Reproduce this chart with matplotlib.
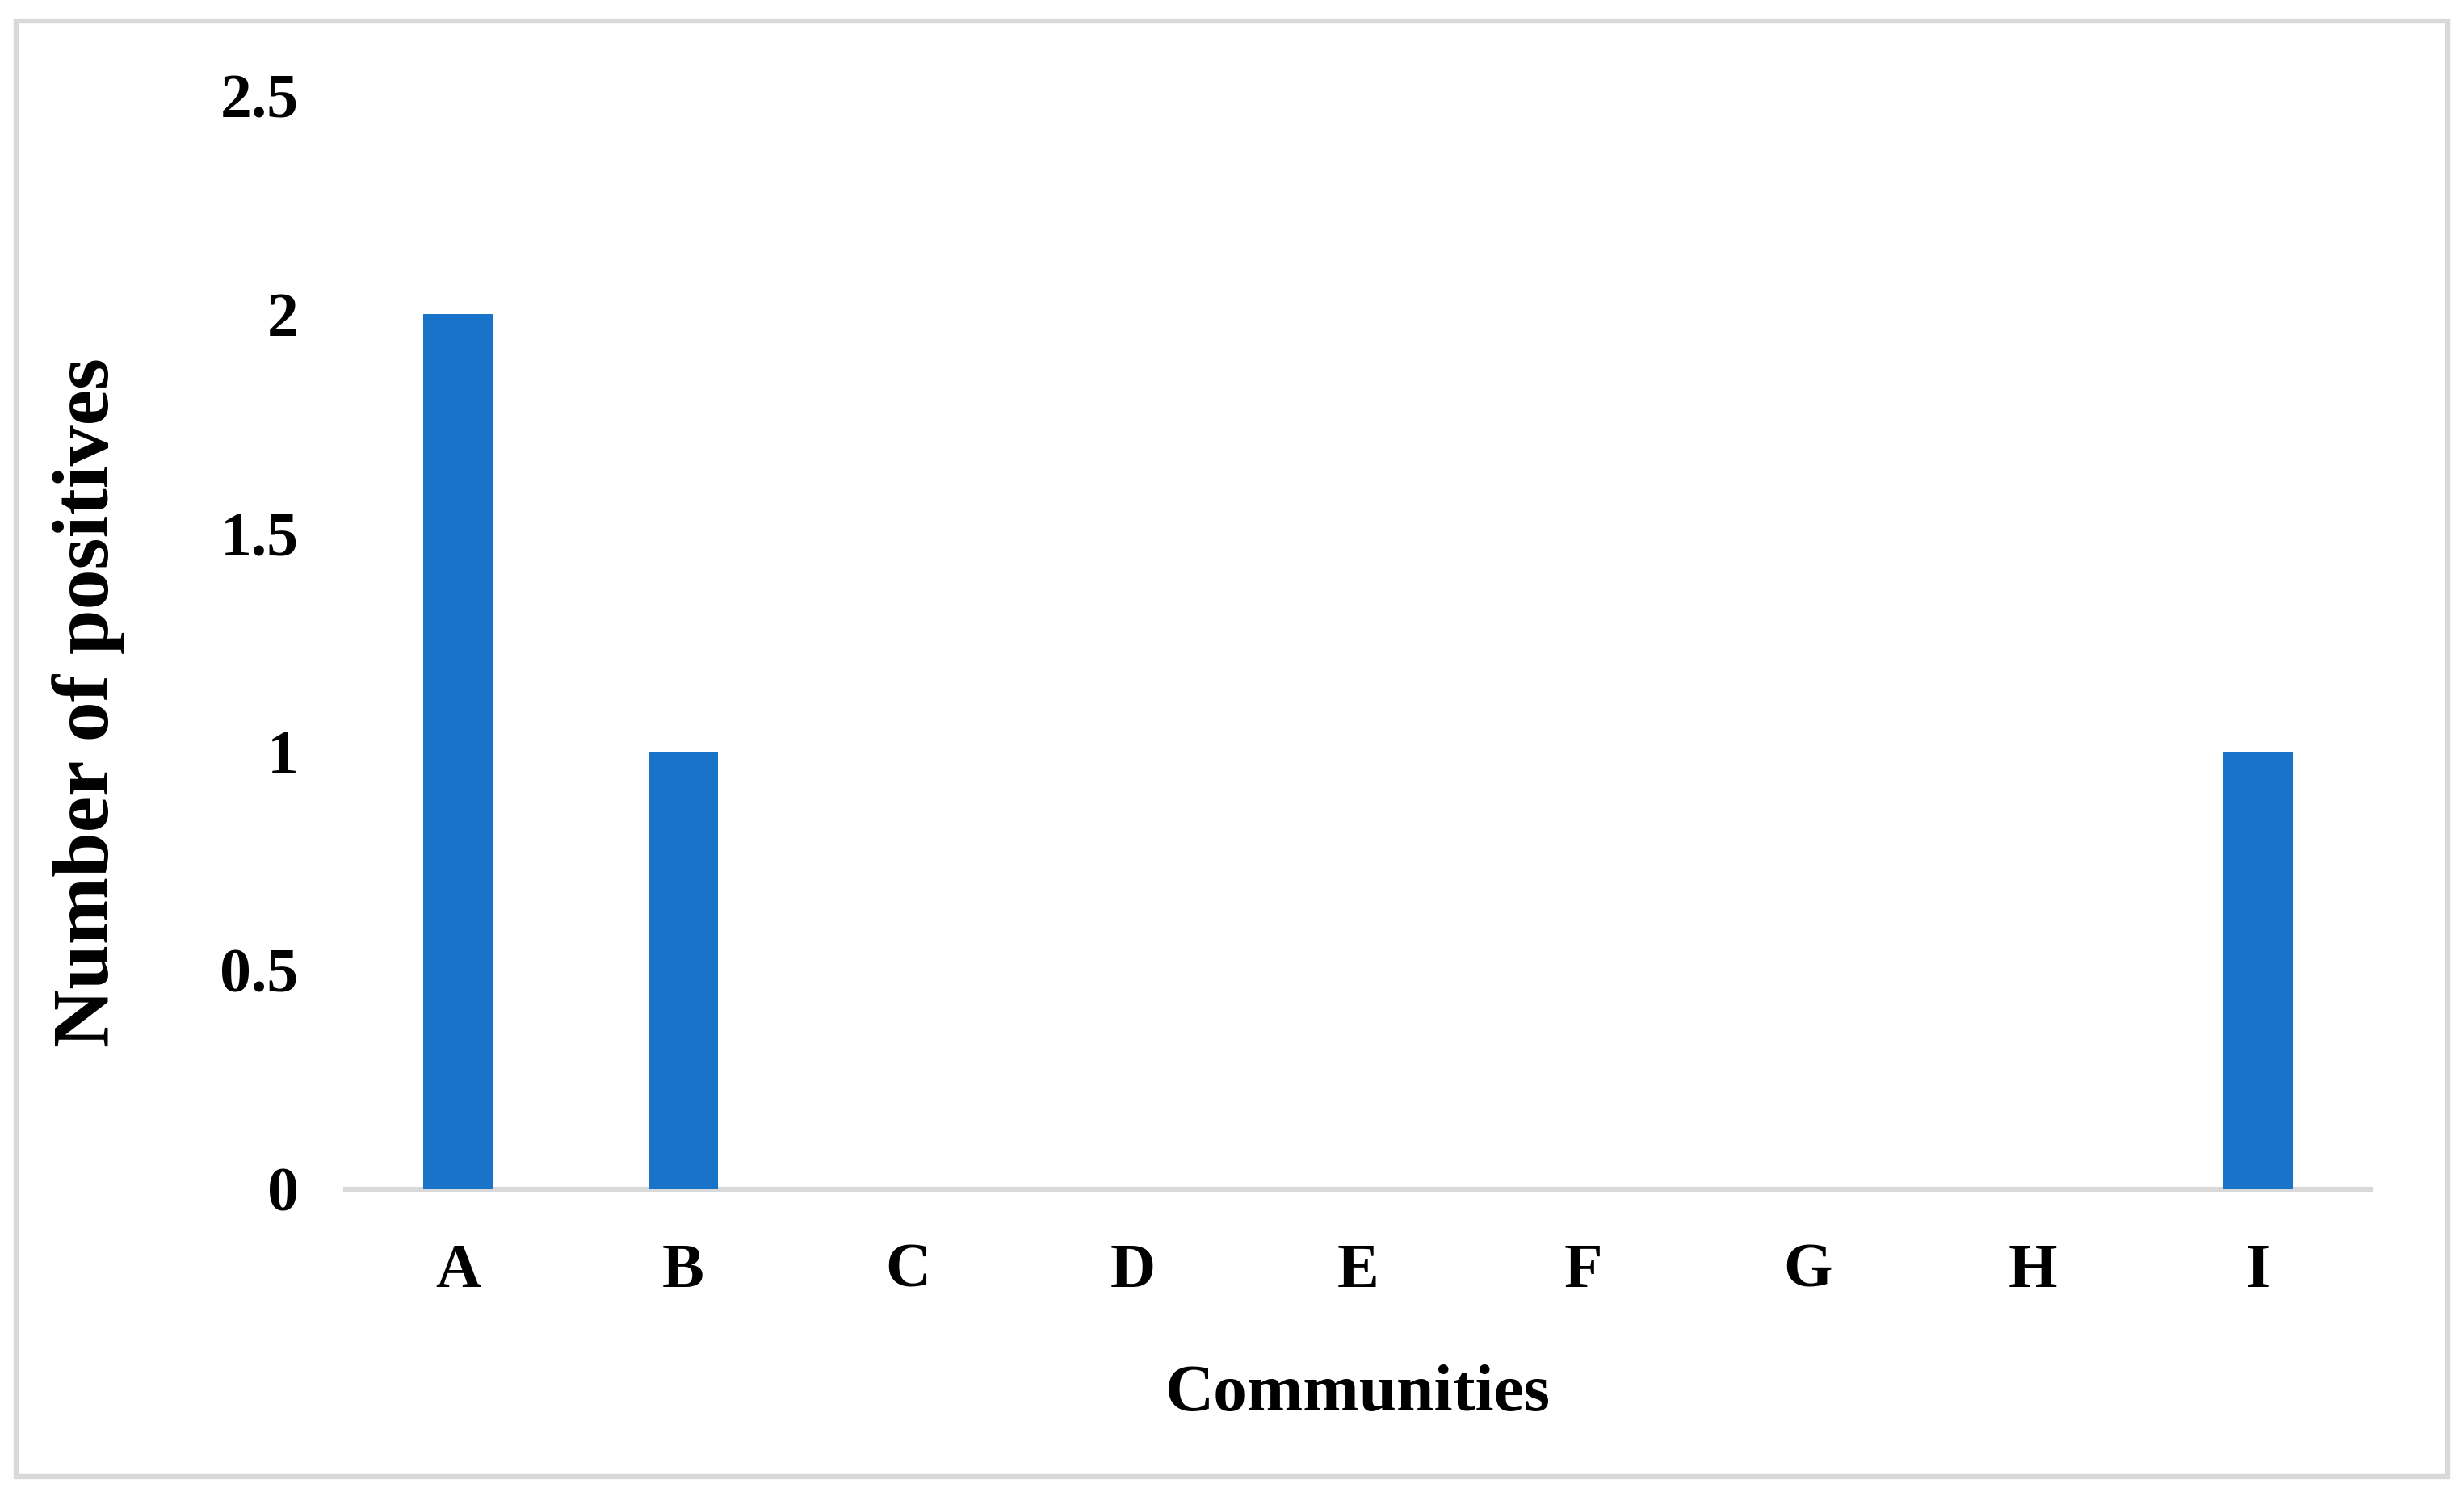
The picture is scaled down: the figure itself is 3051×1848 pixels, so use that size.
import matplotlib
matplotlib.use('Agg')
from matplotlib import pyplot as plt
from matplotlib.patches import Rectangle

communities = ['A', 'B', 'C', 'D', 'E', 'F', 'G', 'H', 'I']
positives = [2, 1, 0, 0, 0, 0, 0, 0, 1]
y_ticks = [0, 0.5, 1, 1.5, 2, 2.5]
y_tick_labels = ['0', '0.5', '1', '1.5', '2', '2.5']

plt.rcParams['font.family'] = ['Liberation Serif', 'DejaVu Serif']
plt.rcParams['font.weight'] = 'bold'

fig = plt.figure(figsize=(15.255, 9.24), dpi=200)
ax = fig.add_axes([0.1403, 0.203, 0.9620 - 0.1403, 0.936 - 0.203])

x = range(len(communities))
ax.bar(x, positives, width=0.31, color='#1873C9', zorder=2)

ax.set_xlim(-0.5, len(communities) - 0.5)
ax.set_ylim(0, 2.5)
ax.set_xticks(list(x))
ax.set_xticklabels(communities, fontsize=28, fontweight='bold')
ax.set_yticks(y_ticks)
ax.set_yticklabels(y_tick_labels, fontsize=28, fontweight='bold')
ax.tick_params(axis='both', length=0)
ax.tick_params(axis='y', pad=21)
ax.tick_params(axis='x', pad=24)

for side in ['top', 'right', 'left']:
    ax.spines[side].set_visible(False)
ax.spines['bottom'].set_color('#d9d9d9')
ax.spines['bottom'].set_linewidth(2.2)
ax.spines['bottom'].set_zorder(1)

ax.set_xlabel('Communities', fontsize=30, fontweight='bold', va='center')
ax.xaxis.set_label_coords(0.5, -0.188)
ax.set_ylabel('Number of positives', fontsize=36, fontweight='bold', va='center')
ax.yaxis.set_label_coords(-0.127, 0.445)

# light grey frame around the whole chart
fig.patches.append(Rectangle((0.0064, 0.0105), 0.9936 - 0.0064, 0.986 - 0.0105,
                             transform=fig.transFigure, fill=False,
                             edgecolor='#d9d9d9', linewidth=2.3))

fig.savefig('out.png', dpi=200, facecolor='white')
